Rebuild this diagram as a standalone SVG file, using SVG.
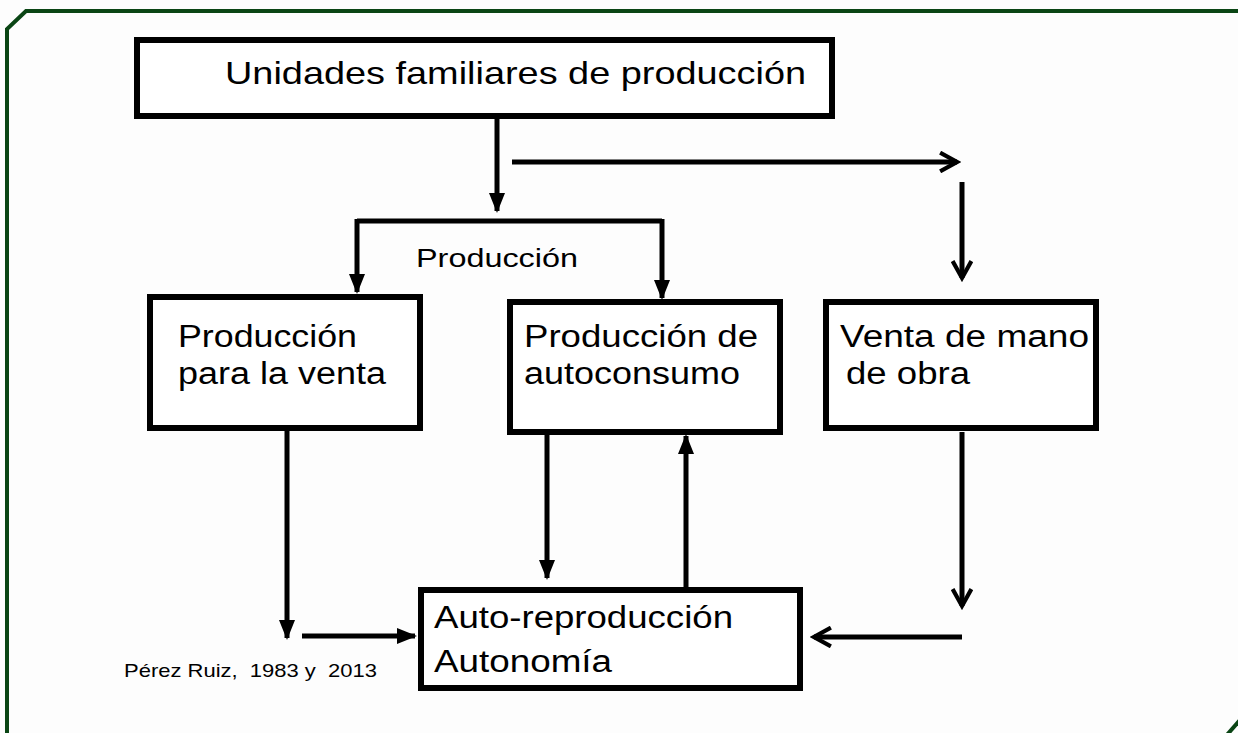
<svg xmlns="http://www.w3.org/2000/svg" width="1238" height="733" viewBox="0 0 1238 733">
<style>
.box{fill:#fff;stroke:#000;stroke-width:6}
.t{font-family:"Liberation Sans",Arial,sans-serif;fill:#000}
.c{stroke:#000;stroke-width:5;fill:none}
</style>
<defs>
<marker id="fa" viewBox="0 0 10 10" refX="9" refY="5" markerWidth="4" markerHeight="4" orient="auto" markerUnits="strokeWidth">
<path d="M0,1 L10,5 L0,9 z" fill="#000"/>
</marker>
<marker id="oa" viewBox="0 0 12 12" refX="10" refY="6" markerWidth="4.5" markerHeight="4.5" orient="auto" markerUnits="strokeWidth">
<path d="M1,1 L10,6 L1,11" fill="none" stroke="#000" stroke-width="2.2"/>
</marker>
</defs>
<rect width="1238" height="733" fill="#fdfdfd"/>
<path d="M7,735 L7,29 L26,11 L1240,11" fill="none" stroke="#0a4514" stroke-width="4"/>
<path d="M1226,736 L1240,720" fill="none" stroke="#0a4514" stroke-width="4"/>
<g id="n-unidades">
<rect class="box" x="137" y="40" width="695" height="76"/>
<text class="t" x="225" y="84" font-size="32" textLength="581" lengthAdjust="spacingAndGlyphs">Unidades familiares de producción</text>
</g>
<g id="n-venta">
<rect class="box" x="150" y="297" width="270" height="131"/>
<text class="t" x="178" y="347" font-size="31" textLength="179" lengthAdjust="spacingAndGlyphs">Producción</text>
<text class="t" x="178" y="384" font-size="31" textLength="208" lengthAdjust="spacingAndGlyphs">para la venta</text>
</g>
<g id="n-autoconsumo">
<rect class="box" x="510" y="302" width="270" height="130"/>
<text class="t" x="524" y="347" font-size="31" textLength="234" lengthAdjust="spacingAndGlyphs">Producción de</text>
<text class="t" x="524" y="384" font-size="31" textLength="216" lengthAdjust="spacingAndGlyphs">autoconsumo</text>
</g>
<g id="n-manoobra">
<rect class="box" x="826" y="302" width="270" height="126"/>
<text class="t" x="840" y="347" font-size="31" textLength="249" lengthAdjust="spacingAndGlyphs">Venta de mano</text>
<text class="t" x="846" y="384" font-size="31" textLength="124" lengthAdjust="spacingAndGlyphs">de obra</text>
</g>
<g id="n-autorepro">
<rect class="box" x="421" y="590" width="379" height="98"/>
<text class="t" x="434" y="628" font-size="31" textLength="299" lengthAdjust="spacingAndGlyphs">Auto-reproducción</text>
<text class="t" x="434" y="672" font-size="31" textLength="178" lengthAdjust="spacingAndGlyphs">Autonomía</text>
</g>
<g id="l-produccion">
<text class="t" x="416" y="267" font-size="26" textLength="162" lengthAdjust="spacingAndGlyphs">Producción</text>
</g>
<g id="l-credit">
<text class="t" x="124" y="677" font-size="19" textLength="253" lengthAdjust="spacingAndGlyphs" xml:space="preserve">Pérez Ruiz,  1983 y  2013</text>
</g>
<g id="connectors">
<path class="c" d="M497,116 L497,211" marker-end="url(#fa)"/>
<path class="c" d="M512,162 L957,162" marker-end="url(#oa)"/>
<path class="c" d="M962,182 L962,278" marker-end="url(#oa)"/>
<path class="c" d="M357,221 L662,221"/>
<path class="c" d="M357,219 L357,292" marker-end="url(#fa)"/>
<path class="c" d="M662,219 L662,298" marker-end="url(#fa)"/>
<path class="c" d="M287,428 L287,638" marker-end="url(#fa)"/>
<path class="c" d="M302,636 L415,636" marker-end="url(#fa)"/>
<path class="c" d="M547,432 L547,578" marker-end="url(#fa)"/>
<path class="c" d="M686,588 L686,436" marker-end="url(#fa)"/>
<path class="c" d="M962,432 L962,606" marker-end="url(#oa)"/>
<path class="c" d="M962,637 L814,637" marker-end="url(#oa)"/>
</g>
</svg>
